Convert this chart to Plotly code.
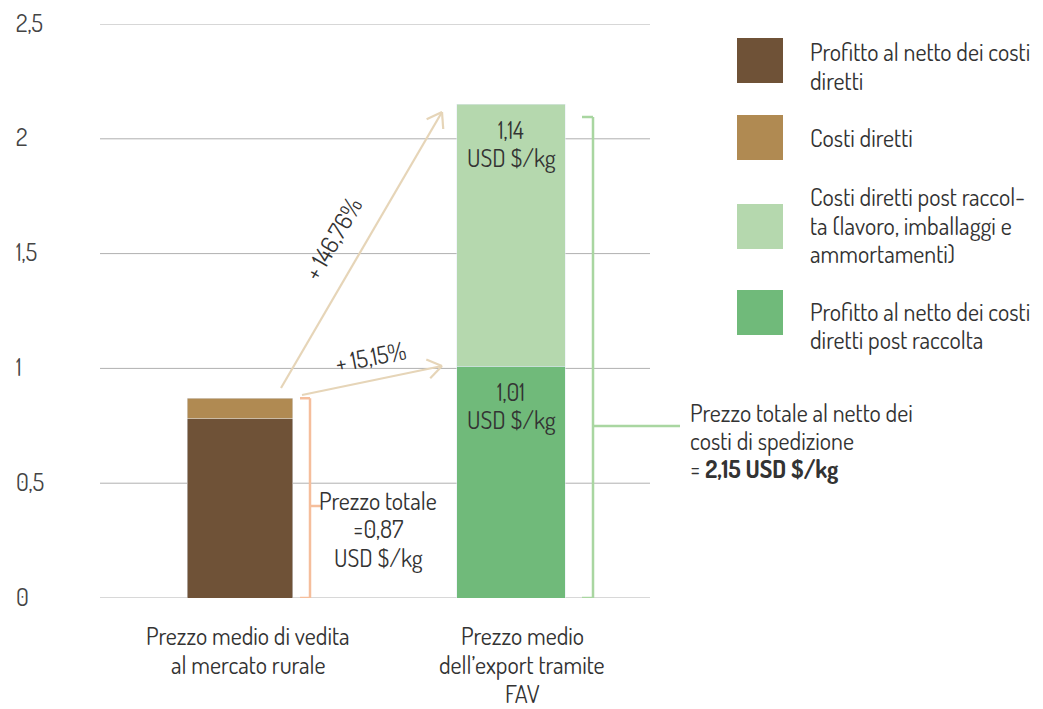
import math
import plotly.graph_objects as go

# --- data -------------------------------------------------------------
categories = [["Prezzo medio di vedita", "al mercato rurale"],
              ["Prezzo medio", "dell’export tramite", "FAV"]]
series_names = [["Profitto al netto dei costi", "diretti"],
                ["Costi diretti"],
                ["Costi diretti post raccol-", "ta (lavoro, imballaggi e", "ammortamenti)"],
                ["Profitto al netto dei costi", "diretti post raccolta"]]
rural_profit = 0.78
rural_costs = 0.09
rural_total = 0.87
fav_profit = 1.01
fav_costs = 1.14
fav_total = 2.15
growth_labels = ["+ 146,76%", "+ 15,15%"]
y_ticks = [0, 0.5, 1, 1.5, 2, 2.5]
y_tick_text = ["0", "0,5", "1", "1,5", "2", "2,5"]

colors = ["#6F5237", "#B08A52", "#B5D8AE", "#70BA7A"]
FONT = "Dosis, Liberation Sans Narrow, Arial Narrow, sans-serif"
TXT = "#333333"
FS = 24

W, H = 1043, 709
L, R, T, B = 100, 650, 24, 598
XR = (-0.517, 1.513)
YR = (0, 2.5)


def dx(px):
    return XR[0] + (px - L) / (R - L) * (XR[1] - XR[0])


def dy(py):
    return YR[0] + (B - py) / (B - T) * (YR[1] - YR[0])


def px_x(px):
    return (px - L) / (R - L)


def px_y(py):
    return (B - py) / (B - T)


fig = go.Figure()
x_pos = [0, 1]
fig.add_bar(x=[x_pos[0]], y=[rural_profit], marker_color=colors[0], width=0.39,
            hoverinfo="skip", showlegend=False)
fig.add_bar(x=[x_pos[0]], y=[rural_costs], marker_color=colors[1], width=0.39,
            hoverinfo="skip", showlegend=False)
fig.add_bar(x=[x_pos[1]], y=[fav_profit], marker_color=colors[3], width=0.40,
            hoverinfo="skip", showlegend=False)
fig.add_bar(x=[x_pos[1]], y=[fav_costs], marker_color=colors[2], width=0.40,
            hoverinfo="skip", showlegend=False)

shapes = []
annotations = []


def note(text, x, y, xref="paper", yref="paper", anchor="center", yshift=0, xshift=0, angle=0, color=TXT):
    annotations.append(dict(xref=xref, yref=yref, x=x, y=y, text=text, showarrow=False,
                            xanchor=anchor, yanchor="middle", align=anchor if anchor != "center" else "center",
                            yshift=yshift, xshift=xshift, textangle=angle,
                            font=dict(family=FONT, size=FS, color=color)))


def text_block(lines, xpx, centers, anchor="center"):
    for line, cy in zip(lines, centers):
        note(line, px_x(xpx), px_y(cy), anchor=anchor)


# grid lines and y tick labels
for v, t in zip(y_ticks, y_tick_text):
    shapes.append(dict(type="line", xref="paper", yref="y", x0=0, x1=1, y0=v, y1=v,
                       line=dict(color="#B0B0B0", width=1), layer="below"))
    note(t, px_x(14), v, yref="y", anchor="left", yshift=2, color="#444444")

# category labels
text_block(categories[0], 248, [636, 664.5])
text_block(categories[1], 522, [636, 664.5, 693.5])

# value labels inside the export bar
note("1,01", x_pos[1], fav_profit, xref="x", yref="y", yshift=-25)
note("USD $/kg", x_pos[1], fav_profit, xref="x", yref="y", yshift=-53)
note("1,14", x_pos[1], fav_total, xref="x", yref="y", yshift=-25)
note("USD $/kg", x_pos[1], fav_total, xref="x", yref="y", yshift=-53)

# bracket for rural price
bc = "#F5BE9C"
bx = dx(310)
shapes += [
    dict(type="line", x0=dx(300), x1=bx, y0=rural_total, y1=rural_total, line=dict(color=bc, width=2.5)),
    dict(type="line", x0=dx(300), x1=bx, y0=0, y1=0, line=dict(color=bc, width=2.5)),
    dict(type="line", x0=bx, x1=bx, y0=0, y1=rural_total, line=dict(color=bc, width=2.5)),
    dict(type="line", x0=bx, x1=dx(322), y0=dy(506), y1=dy(506), line=dict(color=bc, width=2.5)),
]
text_block(["Prezzo totale", "=0,87", "USD $/kg"], 378, [500, 528, 557])

# bracket for export price
gc = "#A9D6A1"
shapes += [
    dict(type="line", xref="paper", x0=px_x(582), x1=px_x(593), y0=dy(117), y1=dy(117), line=dict(color=gc, width=2.5)),
    dict(type="line", xref="paper", x0=px_x(582), x1=px_x(593), y0=0, y1=0, line=dict(color=gc, width=2.5)),
    dict(type="line", xref="paper", x0=px_x(593), x1=px_x(593), y0=0, y1=dy(117), line=dict(color=gc, width=2.5)),
    dict(type="line", xref="paper", x0=px_x(593), x1=px_x(680), y0=dy(426), y1=dy(426), line=dict(color=gc, width=2.5)),
]
text_block(["Prezzo totale al netto dei", "costi di spedizione", "= <b>2,15 USD $/kg</b>"],
           688, [412, 440, 468], anchor="left")

# growth arrows with open heads
ac = "#E6D5B8"


def arrow(p0, p1):
    (x0, y0), (x1, y1) = p0, p1
    out = [dict(type="line", x0=dx(x0), y0=dy(y0), x1=dx(x1), y1=dy(y1), line=dict(color=ac, width=2.2))]
    ang = math.atan2(y0 - y1, x0 - x1)
    for da in (-0.6, 0.6):
        hx = x1 + 17 * math.cos(ang + da)
        hy = y1 + 17 * math.sin(ang + da)
        out.append(dict(type="line", x0=dx(x1), y0=dy(y1), x1=dx(hx), y1=dy(hy), line=dict(color=ac, width=2.2)))
    return out


shapes += arrow((281, 388), (442, 112))
shapes += arrow((302, 395), (442, 366))
note(growth_labels[0], px_x(332), px_y(238), angle=-60)
note(growth_labels[1], px_x(370), px_y(356), angle=-11)

# legend swatches
swatch_tops = [38, 115, 204, 290]
legend_centers = [[51.5, 80.5], [137], [197, 225, 253], [311, 339]]
for i, top in enumerate(swatch_tops):
    shapes.append(dict(type="rect", xref="paper", yref="paper", x0=px_x(737), x1=px_x(783),
                       y0=px_y(top + 45), y1=px_y(top), fillcolor=colors[i], line=dict(width=0)))
    text_block(series_names[i], 808, legend_centers[i], anchor="left")

fig.update_layout(
    width=W, height=H,
    margin=dict(l=L, r=W - R, t=T, b=H - B),
    barmode="stack",
    plot_bgcolor="white", paper_bgcolor="white",
    separators=",.",
    showlegend=False,
    xaxis=dict(range=list(XR), showgrid=False, zeroline=False, showticklabels=False, showline=False),
    yaxis=dict(range=list(YR), showgrid=False, zeroline=False, showticklabels=False, showline=False),
    shapes=shapes,
    annotations=annotations,
)

fig.write_html("out.html")
